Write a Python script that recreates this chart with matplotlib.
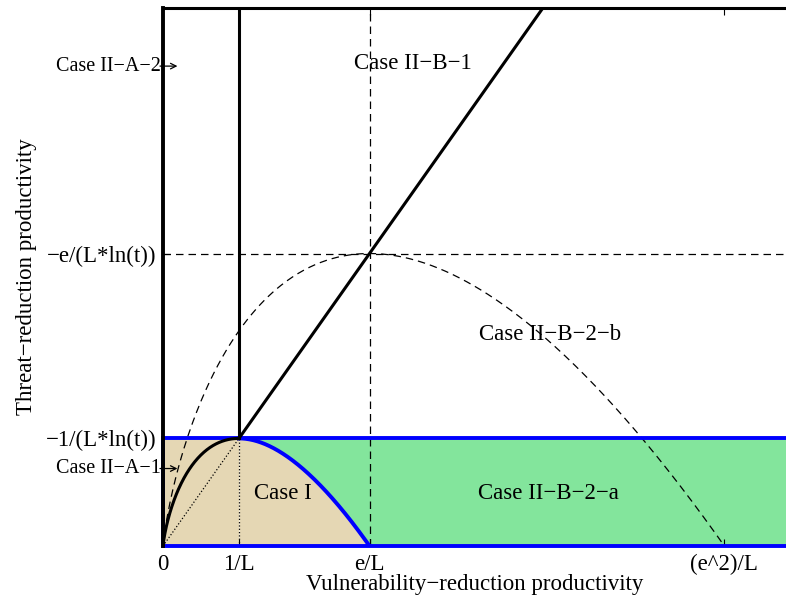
import numpy as np
import matplotlib
matplotlib.use("Agg")
import matplotlib.pyplot as plt

plt.rcParams['font.family'] = ['Liberation Serif', 'DejaVu Sans']

# units: x in 1/L, y in -1/(L*ln(t))
x_ticks = [0, 1, np.e, np.e ** 2]
x_ticklabels = ['0', '1/L', 'e/L', '(e^2)/L']
y_ticks = [1, np.e]
y_ticklabels = ['\u22121/(L*ln(t))', '\u2212e/(L*ln(t))']
xmax = 8.2
ymax = 5.0

case_labels = ['Case I', 'Case II\u2212B\u22122\u2212a', 'Case II\u2212B\u22122\u2212b', 'Case II\u2212B\u22121']
case_pos = [(1.58, 0.49), (5.07, 0.49), (5.09, 1.97), (3.29, 4.48)]
side_labels = ['Case II\u2212A\u22122', 'Case II\u2212A\u22121']
side_y = [4.46, 0.72]

fig = plt.figure(figsize=(7.86, 6.04), dpi=100)
ax = fig.add_axes([163 / 786, 58 / 604, 623 / 786, 538 / 604])

tan = '#e5d7b4'
green = '#83e59c'

# fills
xa = np.linspace(1e-6, 1, 200)
xb = np.linspace(1, np.e, 200)
fb = xb * (1 - np.log(xb))
ax.fill_between([0, 1], 0, 1, color=tan, lw=0)
ax.fill_between(xb, 0, fb, color=tan, lw=0)
ax.fill_between(xb, fb, 1, color=green, lw=0)
ax.fill_between([np.e, xmax], 0, 1, color=green, lw=0)

# dashed curve x(2 - ln x)
xd = np.linspace(1e-6, np.e ** 2, 400)
ax.plot(xd, xd * (2 - np.log(xd)), 'k--', lw=0.9, dashes=(6, 4))
ax.plot([np.e, np.e], [0, ymax], 'k--', lw=0.9, dashes=(6, 4))
ax.plot([0, xmax], [np.e, np.e], 'k--', lw=0.9, dashes=(6, 4))

# dotted
ax.plot([0, 1], [0, 1], 'k:', lw=0.9)
ax.plot([1, 1], [0, 1], 'k:', lw=0.9)

# blue boundaries
ax.plot([0, xmax], [1, 1], color='#0000ff', lw=2.8, solid_capstyle='butt', clip_on=False)
ax.plot([0, xmax], [0, 0], color='#0000ff', lw=2.8, solid_capstyle='butt', clip_on=False)
ax.plot([0, 0], [0, 1], color='#0000ff', lw=2.8, clip_on=False)
ax.plot(xb, fb, color='#0000ff', lw=2.8)

# black lines
ax.plot(xa, xa * (1 - np.log(xa)), 'k', lw=2.2)
ax.plot([1, ymax], [1, ymax], 'k', lw=2.2)
ax.plot([1, 1], [1, ymax], 'k', lw=2.2)
ax.plot([0, 0], [0, ymax], 'k', lw=2.8, clip_on=False)

for lab, (px, py) in zip(case_labels, case_pos):
    ax.text(px, py, lab, ha='center', va='center', fontsize=16.5)

for lab, py in zip(side_labels, side_y):
    ax.text(-0.03, py, lab, ha='right', va='center', fontsize=14.5)
    ax.annotate('', xy=(0.19, py), xytext=(-0.04, py), annotation_clip=False,
                arrowprops=dict(arrowstyle='->', lw=0.9, color='k',
                                shrinkA=0, shrinkB=0))

ax.set_xlim(0, xmax)
ax.set_ylim(0, ymax)
ax.set_xticks(x_ticks)
ax.set_xticklabels(x_ticklabels)
ax.set_yticks(y_ticks)
ax.set_yticklabels(y_ticklabels)
ax.tick_params(direction='in', top=True, length=5, labelsize=16.5, pad=5)
ax.tick_params(axis='x', pad=6)
ax.spines['right'].set_visible(False)
ax.spines['top'].set_linewidth(2.2)
ax.spines['left'].set_visible(False)
ax.spines['bottom'].set_visible(False)
ax.set_xlabel('Vulnerability\u2212reduction productivity', fontsize=16.5, labelpad=-1)
ax.set_ylabel('Threat\u2212reduction productivity', fontsize=16.5, labelpad=6)

fig.savefig('out.png', dpi=100)
